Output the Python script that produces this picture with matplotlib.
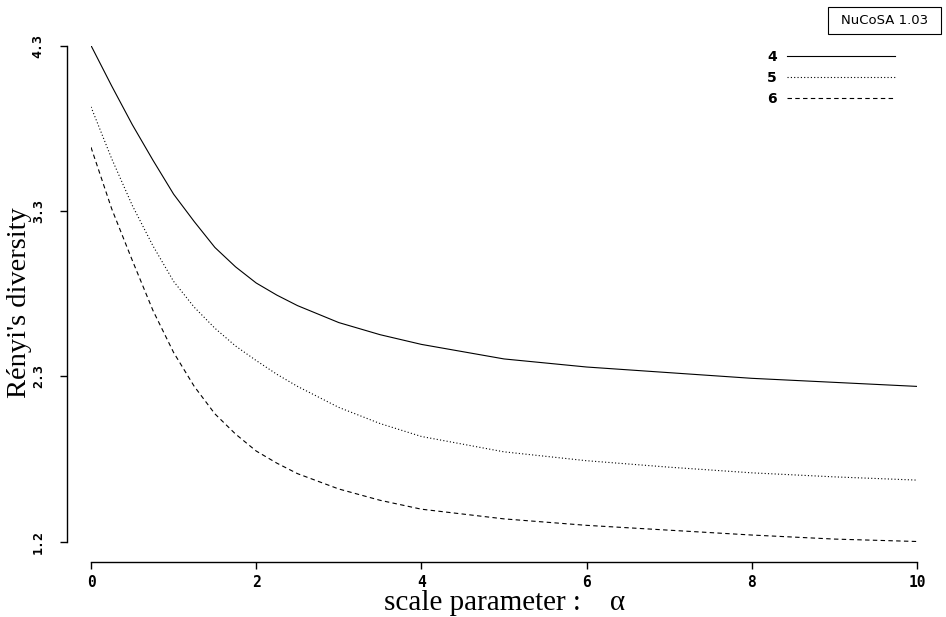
import matplotlib.pyplot as plt
from matplotlib.patches import Rectangle

# values
alpha = [0, 0.25, 0.5, 0.75, 1, 1.25, 1.5, 1.75, 2, 2.25, 2.5, 3, 3.5, 4, 5, 6, 7, 8, 9, 10]
renyi_4 = [4.30, 4.05, 3.81, 3.59, 3.38, 3.21, 3.05, 2.93, 2.83, 2.755, 2.69, 2.585, 2.51, 2.45,
           2.36, 2.31, 2.275, 2.24, 2.215, 2.19]
renyi_5 = [3.92, 3.60, 3.31, 3.06, 2.84, 2.68, 2.55, 2.44, 2.35, 2.265, 2.19, 2.06, 1.96, 1.88,
           1.785, 1.73, 1.69, 1.655, 1.63, 1.61]
renyi_6 = [3.67, 3.29, 2.97, 2.66, 2.40, 2.19, 2.02, 1.895, 1.79, 1.715, 1.65, 1.555, 1.485, 1.43,
           1.37, 1.33, 1.30, 1.27, 1.245, 1.23]
series_labels = ['4', '5', '6']
x_ticks = [0, 2, 4, 6, 8, 10]
y_min, y_max = 1.23, 4.30
y_ticks = [y_min + i * (y_max - y_min) / 3 for i in range(4)]

W, H = 946, 617
fig = plt.figure(figsize=(W / 100, H / 100), dpi=100)
ax = fig.add_axes([91 / W, 1 - 541.5 / H, 826 / W, 496 / H])

styles = ['-', (0, (1, 2)), (0, (4, 3))]
for ys, ls, lab in zip([renyi_4, renyi_5, renyi_6], styles, series_labels):
    ax.plot(alpha, ys, color='black', lw=0.8, linestyle=ls, label=lab)

ax.set_xlim(0, 10)
ax.set_ylim(y_min, y_max)
for s in ['top', 'right']:
    ax.spines[s].set_visible(False)
ax.spines['left'].set_position(('outward', 17.3))
ax.spines['bottom'].set_position(('outward', 14.8))
for s in ['left', 'bottom']:
    ax.spines[s].set_linewidth(1.0)
ax.tick_params(axis='both', direction='out', length=5, width=1.0)
ax.tick_params(axis='x', pad=4)
ax.tick_params(axis='y', pad=11)

ax.set_xticks(x_ticks)
ax.set_xticklabels([str(t) for t in x_ticks])
ax.set_yticks(y_ticks)
ax.set_yticklabels(['%.1f' % t for t in y_ticks])
plt.setp(ax.get_xticklabels(), fontfamily='DejaVu Sans Mono', fontweight='bold', fontsize=10.5)
plt.setp(ax.get_yticklabels(), fontfamily='DejaVu Sans Mono', fontweight='bold', fontsize=9.5,
         rotation=90, va='center')

fig.text(20 / W, 1 - 303 / H, "Rényi's diversity", rotation=90, ha='center', va='center',
         fontfamily='Liberation Serif', fontsize=20.5)
fig.text(505 / W, 1 - 603 / H, "scale parameter :    α", ha='center', va='center',
         fontfamily='Liberation Serif', fontsize=21)

# legend: number first, line sample after it
fig.legend(loc='upper right', bbox_to_anchor=(895 / W, 1 - 50 / H), frameon=False,
           markerfirst=False, handlelength=7.8, handletextpad=0.7, labelspacing=0.5,
           borderpad=0, borderaxespad=0,
           prop={'family': 'DejaVu Sans', 'weight': 'bold', 'size': 10})

fig.patches.append(Rectangle((828 / W, 1 - 34 / H), 113 / W, 27 / H, transform=fig.transFigure,
                             fill=False, edgecolor='black', lw=0.8))
fig.text(884.5 / W, 1 - 20.5 / H, 'NuCoSA 1.03', ha='center', va='center',
         fontfamily='DejaVu Sans', fontsize=9.5)

fig.savefig('out.png', dpi=100)
